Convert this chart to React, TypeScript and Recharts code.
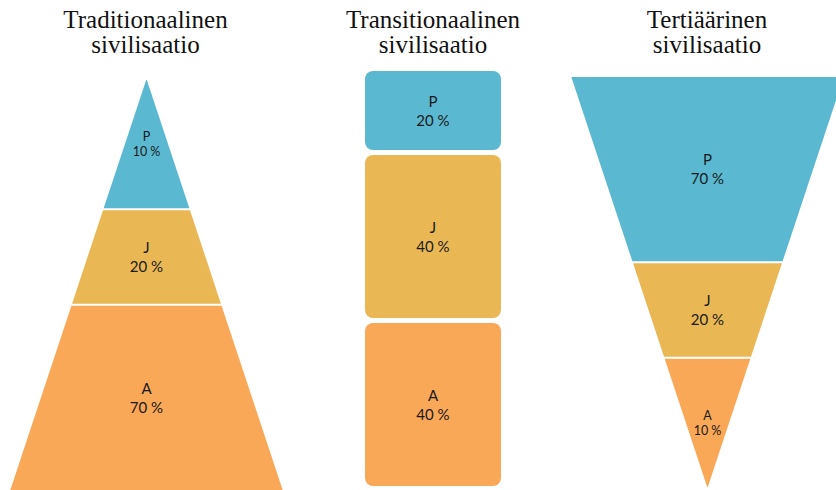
import React from 'react';
import { BarChart, Bar, XAxis, YAxis, LabelList, Rectangle, Customized } from 'recharts';

const categories = ['Traditionaalinen sivilisaatio', 'Transitionaalinen sivilisaatio', 'Tertiäärinen sivilisaatio'];
const titleLine1 = ['Traditionaalinen', 'Transitionaalinen', 'Tertiäärinen'];
const titleLine2 = ['sivilisaatio', 'sivilisaatio', 'sivilisaatio'];
const segmentKeys = ['P', 'J', 'A'];
const pValues = [10, 20, 70];
const jValues = [20, 40, 20];
const aValues = [70, 40, 10];

const COLORS: Record<string, string> = { P: '#5BB8D1', J: '#E9B855', A: '#F9A857' };

const rowFor = (i: number) => [{ name: categories[i], P: pValues[i], J: jValues[i], A: aValues[i] }];

const norm = (y: number, height: number) => ({ top: Math.min(y, y + height), h: Math.abs(height) });

// cone segment: apexTop => value 0 at top of plot (pointing up)
const coneShape = (fill: string, apexTop: boolean, fbTop: number, fbBottom: number) => (props: any) => {
  const { x, width, background } = props;
  const { top: sy, h } = norm(props.y, props.height);
  const top = background && typeof background.y === 'number' ? background.y : fbTop;
  const bottom = background && typeof background.height === 'number' ? background.y + background.height : fbBottom;
  const full = bottom - top;
  const cx = x + width / 2;
  const half = width / 2;
  const apexY = apexTop ? top : bottom;
  const hw = (py: number) => (half * Math.abs(py - apexY)) / full;
  const y1 = sy + 1;
  const y2 = sy + h - 1;
  const pts = [
    [cx - hw(y1), y1],
    [cx + hw(y1), y1],
    [cx + hw(y2), y2],
    [cx - hw(y2), y2],
  ];
  return <polygon points={pts.map((p) => p.join(',')).join(' ')} fill={fill} />;
};

const boxShape = (fill: string) => (props: any) => {
  const { x, width } = props;
  const { top, h } = norm(props.y, props.height);
  return <Rectangle x={x} y={top + 2.5} width={width} height={h - 5} radius={8} fill={fill} />;
};

const labelContent = (name: string) => (props: any) => {
  const vb = props.viewBox || props;
  const x = vb.x ?? props.x;
  const width = vb.width ?? props.width;
  const { top, h } = norm(vb.y ?? props.y, vb.height ?? props.height);
  const value = props.value;
  const cx = x + width / 2;
  const cy = top + h / 2;
  const small = value <= 10;
  const fs = small ? 12.5 : 15;
  const b1 = small ? cy - 3 : cy - 4;
  const b2 = small ? cy + 12 : cy + 15;
  return (
    <text textAnchor="middle" fontFamily="Lato, 'Liberation Sans', sans-serif" fontSize={fs} fill="#1a1a1a">
      <tspan x={cx} y={b1}>{name}</tspan>
      <tspan x={cx} y={b2}>{`${value} %`}</tspan>
    </text>
  );
};

const Title = (i: number, cx: number) => () => (
  <text textAnchor="middle" fontFamily="'Liberation Serif', serif" fontSize={25} fill="#111">
    <tspan x={cx} y={28}>{titleLine1[i]}</tspan>
    <tspan x={cx} y={53}>{titleLine2[i]}</tspan>
  </text>
);

export default function App() {
  return (
    <div style={{ position: 'absolute', left: 0, top: 0, width: 836, height: 490, overflow: 'hidden', background: '#fff' }}>
      {/* Traditionaalinen: upright pyramid, area proportional */}
      <div style={{ position: 'absolute', left: 0, top: 0 }}>
        <BarChart width={293} height={491} data={rowFor(0)} margin={{ top: 79, right: 0, bottom: 0, left: 0 }} barSize={273}>
          <XAxis dataKey="name" type="category" hide />
          <YAxis type="number" scale="sqrt" domain={[0, 100]} reversed hide />
          {segmentKeys.map((k) => (
            <Bar key={k} dataKey={k} stackId="s" fill={COLORS[k]} isAnimationActive={false} shape={coneShape(COLORS[k], true, 79, 491)}>
              <LabelList dataKey={k} content={labelContent(k)} />
            </Bar>
          ))}
          <Customized component={Title(0, 145.5)} />
        </BarChart>
      </div>
      {/* Transitionaalinen: stacked boxes */}
      <div style={{ position: 'absolute', left: 333, top: 0 }}>
        <BarChart width={200} height={490} data={rowFor(1)} margin={{ top: 68.5, right: 0, bottom: 1.5, left: 0 }} barSize={136}>
          <XAxis dataKey="name" type="category" hide />
          <YAxis type="number" domain={[0, 100]} reversed hide />
          {segmentKeys.map((k) => (
            <Bar key={k} dataKey={k} stackId="s" fill={COLORS[k]} isAnimationActive={false} shape={boxShape(COLORS[k])}>
              <LabelList dataKey={k} content={labelContent(k)} />
            </Bar>
          ))}
          <Customized component={Title(1, 100)} />
        </BarChart>
      </div>
      {/* Tertiäärinen: inverted pyramid */}
      <div style={{ position: 'absolute', left: 560, top: 0 }}>
        <BarChart width={294} height={490} data={rowFor(2)} margin={{ top: 76, right: 0, bottom: 2, left: 0 }} barSize={273}>
          <XAxis dataKey="name" type="category" hide />
          <YAxis type="number" scale="sqrt" domain={[0, 100]} hide />
          {[...segmentKeys].reverse().map((k) => (
            <Bar key={k} dataKey={k} stackId="s" fill={COLORS[k]} isAnimationActive={false} shape={coneShape(COLORS[k], false, 76, 488)}>
              <LabelList dataKey={k} content={labelContent(k)} />
            </Bar>
          ))}
          <Customized component={Title(2, 147)} />
        </BarChart>
      </div>
    </div>
  );
}
